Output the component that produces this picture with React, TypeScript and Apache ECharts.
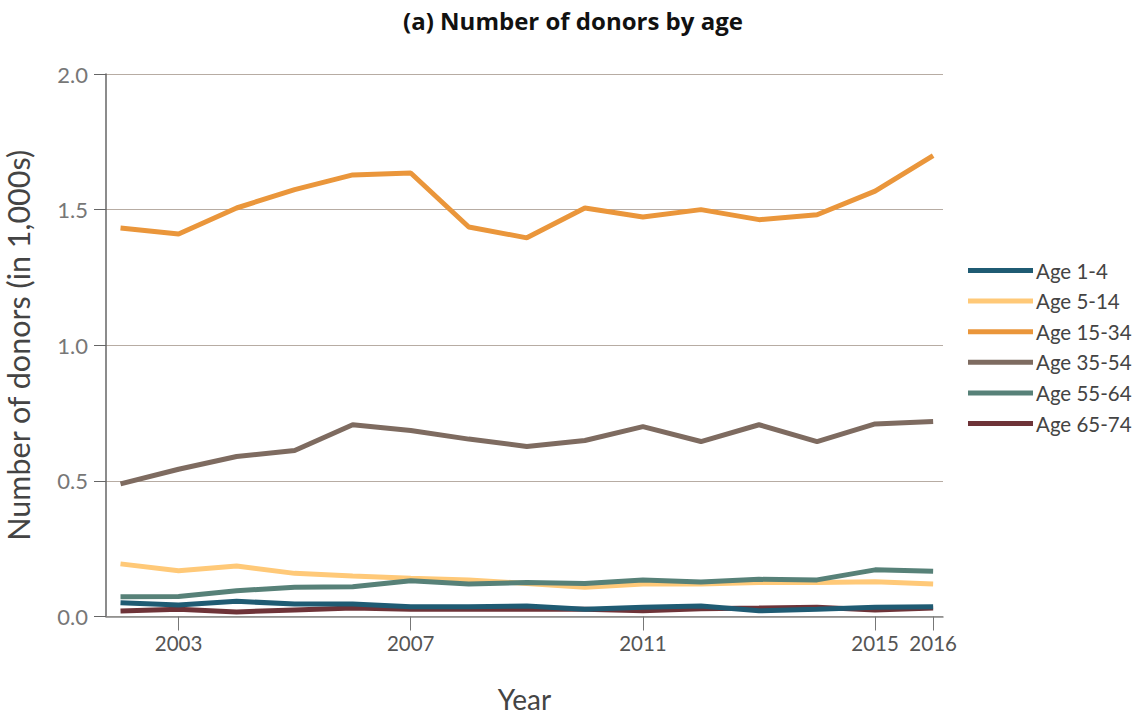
import React, { useEffect, useRef } from "react";
import * as echarts from "echarts";

const years = [2002, 2003, 2004, 2005, 2006, 2007, 2008, 2009, 2010, 2011, 2012, 2013, 2014, 2015, 2016];
const tickYears = [2003, 2007, 2011, 2015, 2016];

const age1to4 = [0.051, 0.042, 0.056, 0.046, 0.046, 0.036, 0.036, 0.039, 0.027, 0.034, 0.039, 0.021, 0.027, 0.034, 0.036];
const age5to14 = [0.194, 0.169, 0.186, 0.159, 0.149, 0.141, 0.135, 0.122, 0.108, 0.12, 0.12, 0.125, 0.125, 0.128, 0.12];
const age15to34 = [1.432, 1.41, 1.506, 1.574, 1.628, 1.635, 1.436, 1.396, 1.506, 1.473, 1.5, 1.463, 1.481, 1.568, 1.699];
const age35to54 = [0.489, 0.543, 0.59, 0.612, 0.707, 0.686, 0.654, 0.627, 0.649, 0.7, 0.645, 0.707, 0.645, 0.71, 0.719];
const age55to64 = [0.073, 0.074, 0.095, 0.108, 0.11, 0.132, 0.12, 0.125, 0.122, 0.135, 0.127, 0.137, 0.135, 0.172, 0.167];
const age65to74 = [0.02, 0.027, 0.017, 0.024, 0.031, 0.027, 0.027, 0.027, 0.027, 0.021, 0.029, 0.031, 0.034, 0.024, 0.031];

const seriesNames = ["Age 1-4", "Age 5-14", "Age 15-34", "Age 35-54", "Age 55-64", "Age 65-74"];
const seriesData = [age1to4, age5to14, age15to34, age35to54, age55to64, age65to74];
const colors = ["#1f5b73", "#ffc978", "#ea963b", "#7e6b60", "#578178", "#6e3338"];

const FONT = "Lato, 'Open Sans', sans-serif";

export default function App() {
  const ref = useRef<HTMLDivElement>(null);
  useEffect(() => {
    document.body.style.margin = "0";
    if (!ref.current) return;
    const chart = echarts.init(ref.current, undefined, { renderer: "svg" });
    chart.setOption({
      animation: false,
      color: colors,
      title: {
        text: "(a) Number of donors by age",
        left: 568,
        textAlign: "center",
        top: 3,
        textStyle: { fontFamily: "'Open Sans', sans-serif", fontWeight: "bold", fontSize: 24, color: "#111" },
      },
      legend: {
        orient: "vertical",
        left: 963,
        top: 255,
        icon: "rect",
        itemWidth: 65,
        itemHeight: 5,
        itemGap: 9.6,
        textStyle: { fontFamily: FONT, fontSize: 20.5, color: "#444", lineHeight: 20, padding: [0, 0, 0, -2] },
        data: seriesNames,
      },
      grid: { left: 106, right: 192, top: 74, bottom: 98.5, outerBoundsMode: "none", containLabel: false },
      xAxis: {
        type: "value",
        min: 2001.75,
        max: 2016.17,
        name: "Year",
        nameLocation: "middle",
        nameGap: 68,
        nameTextStyle: { fontFamily: FONT, fontSize: 28, color: "#444" },
        axisLine: { show: true, lineStyle: { color: "#888", width: 1.5 } },
        axisTick: { show: true, length: 14, customValues: tickYears, lineStyle: { color: "#777" } },
        axisLabel: {
          customValues: tickYears,
          formatter: (v: number) => String(v),
          fontFamily: FONT,
          fontSize: 20.5,
          color: "#555",
          margin: 16,
        },
        splitLine: { show: false },
      },
      yAxis: {
        type: "value",
        min: 0,
        max: 2,
        interval: 0.5,
        name: "Number of donors (in 1,000s)",
        nameLocation: "middle",
        nameGap: 73,
        nameTextStyle: { fontFamily: FONT, fontSize: 30.5, color: "#444" },
        axisLine: { show: true, lineStyle: { color: "#666", width: 1.5 } },
        axisTick: { show: true, length: 12, lineStyle: { color: "#666" } },
        axisLabel: {
          formatter: (v: number) => v.toFixed(1),
          fontFamily: FONT,
          fontSize: 22,
          color: "#777",
          margin: 18,
        },
        splitLine: { show: true, lineStyle: { color: "#b7aca3", width: 1 } },
      },
      series: seriesNames.map((name, i) => ({
        name,
        type: "line",
        data: years.map((y, j) => [y, seriesData[i][j]]),
        symbol: "none",
        lineStyle: { width: 5, color: colors[i] },
        itemStyle: { color: colors[i] },
        z: i === 0 ? 3 : 2,
      })),
    });
    return () => chart.dispose();
  }, []);
  return <div ref={ref} style={{ width: 1135, height: 715 }} />;
}
